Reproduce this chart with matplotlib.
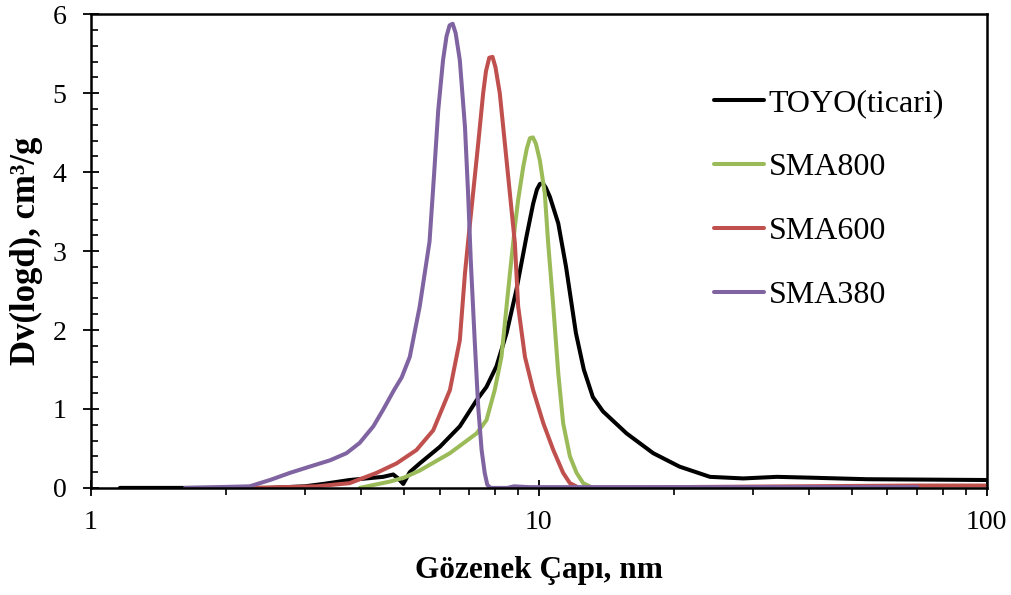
import matplotlib
matplotlib.use("Agg")
import matplotlib.pyplot as plt
from matplotlib.ticker import LogLocator, MultipleLocator, FixedLocator, NullFormatter

plt.rcParams['font.family'] = ['Liberation Serif', 'DejaVu Serif']

# pore diameter (nm) and Dv(logd) values
toyo_x = [1.16, 1.6, 2.5, 3.0, 3.3, 3.78, 4.12, 4.49, 4.73, 4.85, 4.98, 5.15,
          5.42, 6.01, 6.66, 7.26, 7.64, 8.04, 8.47, 8.91, 9.38, 9.71, 9.9, 10.05,
          10.2, 10.35, 10.58, 11.05, 11.5, 12.1, 12.6, 13.2, 13.9, 15.7, 18.0, 20.6,
          24.1, 28.6, 34.0, 40.2, 54, 100]
toyo_y = [0, 0, 0, 0.02, 0.05, 0.1, 0.12, 0.14, 0.17, 0.12, 0.05, 0.2,
          0.31, 0.52, 0.78, 1.11, 1.28, 1.54, 1.96, 2.51, 3.18, 3.6, 3.78, 3.85,
          3.86, 3.81, 3.69, 3.35, 2.8, 1.96, 1.5, 1.15, 0.97, 0.69, 0.44, 0.27,
          0.14, 0.12, 0.14, 0.13, 0.11, 0.1]

sma800_x = [3.98, 4.65, 5.0, 5.42, 6.33, 7.26, 7.64, 7.97, 8.25, 8.47, 8.63, 8.84,
            8.99, 9.23, 9.4, 9.55, 9.7, 9.85, 10.05, 10.31, 10.49, 10.77, 11.05,
            11.33, 11.73, 12.14, 12.56, 13.2, 16]
sma800_y = [0, 0.08, 0.13, 0.22, 0.44, 0.69, 0.86, 1.24, 1.66, 2.3, 2.75, 3.31,
            3.65, 4.07, 4.3, 4.43, 4.44, 4.36, 4.15, 3.73, 3.1, 2.3, 1.45,
            0.82, 0.4, 0.19, 0.06, 0, 0]

sma600_x = [2.3, 3.19, 3.78, 4.34, 4.81, 5.33, 5.81, 6.33, 6.66, 6.84, 6.95, 7.13,
            7.32, 7.51, 7.62, 7.75, 7.88, 8.0, 8.18, 8.47, 8.69, 8.84, 8.99, 9.31,
            9.71, 10.23, 10.77, 11.33, 11.73, 12.3, 20, 70, 100]
sma600_y = [0, 0.02, 0.06, 0.19, 0.31, 0.48, 0.73, 1.24, 1.87, 2.72, 3.12, 3.73,
            4.36, 5.0, 5.28, 5.45, 5.46, 5.33, 5.0, 4.15, 3.52, 3.1, 2.3, 1.66,
            1.24, 0.82, 0.48, 0.19, 0.06, 0, 0.01, 0.03, 0.03]

sma380_x = [1.62, 2.26, 2.51, 2.78, 3.08, 3.42, 3.72, 3.98, 4.27, 4.49, 4.75, 4.94,
            5.15, 5.42, 5.7, 5.83, 5.96, 6.11, 6.22, 6.32, 6.42, 6.52, 6.66, 6.84,
            6.95, 7.05, 7.19, 7.32, 7.45, 7.57, 7.67, 7.8, 8.5, 8.8, 9.5, 20, 70]
sma380_y = [0, 0.02, 0.1, 0.19, 0.27, 0.35, 0.44, 0.57, 0.78, 0.99, 1.24, 1.4,
            1.66, 2.3, 3.12, 3.94, 4.78, 5.42, 5.72, 5.86, 5.88, 5.76, 5.42, 4.57,
            3.73, 2.85, 1.87, 1.03, 0.48, 0.19, 0.04, 0, 0, 0.02, 0.01, 0.01, 0.01]

series = [
    ("TOYO(ticari)", toyo_x, toyo_y, "black"),
    ("SMA800", sma800_x, sma800_y, "#9BBB59"),
    ("SMA600", sma600_x, sma600_y, "#C0504D"),
    ("SMA380", sma380_x, sma380_y, "#8064A2"),
]

fig = plt.figure(figsize=(10.11, 5.95), dpi=100)
ax = fig.add_axes([0.090, 0.180, 0.886, 0.796])

for name, xs, ys, col in series:
    ax.plot(xs, ys, color=col, lw=2.9, label=name,
            solid_capstyle="round", solid_joinstyle="round")

ax.set_xscale("log")
ax.set_xlim(1, 100)
ax.set_ylim(0, 6)
ax.xaxis.set_major_locator(FixedLocator([1, 10, 100]))
ax.set_xticklabels(["1", "10", "100"])
ax.xaxis.set_minor_locator(LogLocator(base=10, subs=range(2, 10)))
ax.xaxis.set_minor_formatter(NullFormatter())
ax.yaxis.set_major_locator(MultipleLocator(1))
ax.yaxis.set_minor_locator(MultipleLocator(0.2))

ax.tick_params(axis="x", which="major", direction="inout", length=12, width=1.3,
               labelsize=20, pad=10)
ax.tick_params(axis="x", which="minor", direction="out", length=5, width=1.2)
ax.tick_params(axis="y", which="major", direction="inout", length=11, width=1.3,
               labelsize=20, pad=12)
ax.tick_params(axis="y", which="minor", direction="in", length=5, width=1.2)

for sp in ax.spines.values():
    sp.set_linewidth(1.8)

ax.set_xlabel("Gözenek Çapı, nm", fontsize=22.5, fontweight="bold", labelpad=15)
ax.set_ylabel("Dv(logd), cm³/g", fontsize=25, fontweight="bold", labelpad=7)

ax.legend(loc="upper left", bbox_to_anchor=(0.696, 0.842), frameon=False, fontsize=23,
          handlelength=1.55, handletextpad=0.15, labelspacing=1.08,
          borderpad=0, borderaxespad=0)

fig.savefig("out.png", dpi=100)
